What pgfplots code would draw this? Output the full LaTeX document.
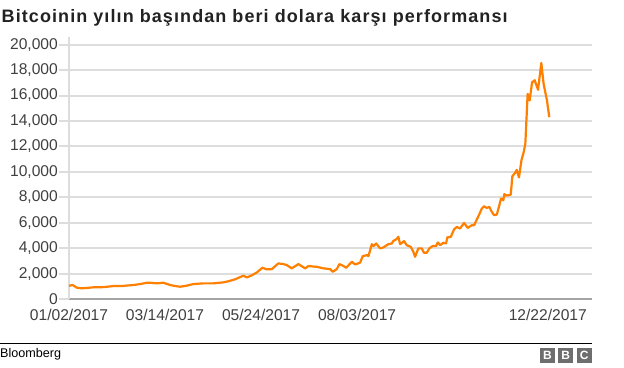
\documentclass[border=0pt]{standalone}
\usepackage{fontspec}
\setmainfont{Liberation Sans}
\newfontfamily\titlefont[LetterSpace=6]{Liberation Sans Bold}
\newfontfamily\boldfont{Liberation Sans Bold}
\usepackage{pgfplots}
\pgfplotsset{compat=1.18}
\definecolor{btc}{RGB}{255,127,0}
\definecolor{gridc}{RGB}{221,221,221}
\definecolor{axc}{RGB}{165,165,165}
\definecolor{txt}{RGB}{64,64,64}
\definecolor{bbcg}{RGB}{110,110,110}
\begin{document}
\begin{tikzpicture}[x=1bp,y=1bp]
\useasboundingbox (0,0) rectangle (624,367);
\begin{axis}[
  at={(69bp,68bp)}, anchor=south west,
  scale only axis, width=523bp, height=262bp,
  xmin=2, xmax=388.7, ymin=0, ymax=20600,
  axis x line*=bottom, axis y line*=left,
  x axis line style={draw=axc, line width=1.3bp, -},
  y axis line style={draw=gridc, line width=2bp, -},
  ytick={0,2000,...,20000},
  ymajorgrids, major grid style={draw=gridc, line width=2bp},
  tick align=outside, major tick length=10bp,
  ytick style={draw=gridc, line width=2bp},
  xtick style={draw=none},
  xtick={2,73,144,215,356},
  xticklabels={01/02/2017,03/14/2017,05/24/2017,08/03/2017,12/22/2017},
  tick label style={font=\fontsize{15.6bp}{18bp}\selectfont, text=txt},
  yticklabel style={inner sep=0pt, xshift=-1bp},
  xticklabel style={inner sep=0pt},
  scaled y ticks=false,
  /pgf/number format/1000 sep={,},
  /pgf/number format/assume math mode=true,
]
\addplot[btc, line width=2.2bp, line join=round] coordinates {
(2,1043) (4.6,1100) (7.8,890) (11.5,840) (15,870) (20.1,918) (25.1,918) (30,960) (34.9,1020) (41.1,1020) (45,1060) (49.7,1100) (55,1180) (59.6,1280) (63,1270) (67,1230) (71.8,1280) (76.8,1100) (80,1030) (84.2,965) (89,1050) (94,1176) (101.4,1230) (108.8,1230) (116.2,1310) (120,1400) (124.8,1545) (128,1700) (131,1830) (133.5,1700) (137,1850) (140.9,2090) (145,2460) (148.3,2330) (152,2350) (156.8,2800) (160.5,2745) (163,2670) (166.7,2410) (171.6,2745) (176.6,2410) (179,2590) (185.2,2530) (190.1,2410) (195.1,2350) (197,2140) (200,2350) (201.9,2745) (204.9,2600) (206.9,2450) (211.1,2925) (213.5,2720) (217.2,2850) (219.2,3370) (222.2,3450) (223.4,3370) (225.9,4310) (227.1,4160) (229.1,4370) (232,3980) (234.4,4050) (238.1,4310) (240.7,4370) (241.8,4570) (243.8,4680) (245.5,4890) (246.8,4310) (249.7,4550) (251.7,4235) (254.7,4100) (256.6,3710) (257.9,3320) (260.3,3980) (262.8,3980) (264.5,3630) (266.5,3630) (268.4,3980) (270.9,4160) (273.4,4160) (274.7,4450) (276.4,4235) (278.8,4420) (280.8,4370) (281.7,4840) (284.3,4890) (286.7,5470) (288.7,5670) (291.1,5540) (294.1,5980) (296.8,5590) (299.8,5800) (301.5,5800) (303.9,6330) (305.4,6670) (307.2,7110) (308.9,7290) (310.9,7160) (312.8,7240) (314.6,6850) (316.3,6590) (318.3,6640) (320.2,7370) (321.4,7900) (323.1,7760) (323.9,8240) (325.6,8130) (328.6,8200) (329.8,9650) (331.8,9910) (333,10150) (334.7,9560) (336.5,10900) (338.2,11550) (339.4,12210) (341.1,16130) (342.6,15610) (344.4,17040) (346.3,17200) (348.8,16450) (351.2,18560) (352.9,16920) (355.4,15610) (357.1,14300)
};
\end{axis}
\node[anchor=base west, inner sep=0pt, text={rgb,255:red,34;green,34;blue,34}] at (1.5,344.3)
  {\titlefont\fontsize{18bp}{21bp}\selectfont Bitcoinin yılın başından beri dolara karşı performansı};
\draw[black, line width=1.3bp] (0,23.5) -- (592,23.5);
\node[anchor=base west, inner sep=0pt, text=black] at (0,9.5)
  {\fontsize{12.6bp}{15bp}\selectfont Bloomberg};
\foreach \xx/\ll in {540/B,558.3/B,576.7/C}{
  \fill[bbcg] (\xx,4.3) rectangle ++(14.8,14.4);
  \node[text=white, inner sep=0pt] at (\xx+7.4,11.5) {\boldfont\fontsize{12bp}{14bp}\selectfont \ll};
}
\end{tikzpicture}
\end{document}
